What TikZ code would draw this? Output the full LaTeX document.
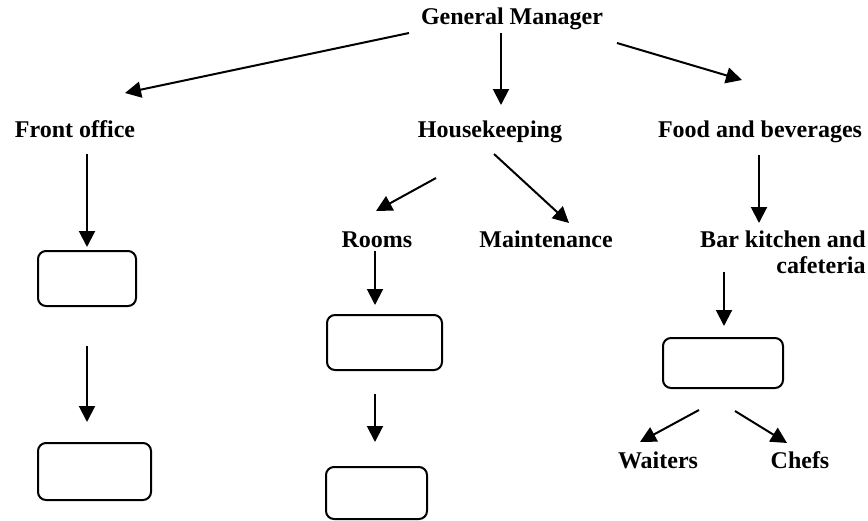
\documentclass[tikz,border=0pt]{standalone}
\usepackage{fontspec}
\setmainfont{Liberation Serif}
\usetikzlibrary{arrows.meta}
\tikzset{
  lbl/.style={inner sep=0pt,anchor=base,font=\fontsize{12}{13}\selectfont\bfseries},
  emptybox/.style={draw,line width=1pt,rounded corners=4pt,inner sep=0pt},
  arr/.style={line width=1pt,-{Triangle[length=8pt,width=8pt]}}
}
\begin{document}
\begin{tikzpicture}[x=0.5pt,y=-0.5pt]
        \useasboundingbox (0,0) rectangle (868,520);
        % labels
        \node[lbl] (gm) at (512,24) {General Manager};
        \node[lbl] (front) at (75,137) {Front office};
        \node[lbl] (house) at (490,137) {Housekeeping};
        \node[lbl] (food) at (760,137) {Food and beverages};
        \node[lbl] (rooms) at (377,247) {Rooms};
        \node[lbl] (maint) at (546,247) {Maintenance};
        \node[lbl,anchor=base east,align=right] (bar) at (866,273) {Bar kitchen and\\cafeteria};
        \node[lbl] (waiters) at (658,468) {Waiters};
        \node[lbl] (chefs) at (800,468) {Chefs};
        % empty boxes
        \node[emptybox,minimum width=49pt,minimum height=27.5pt] (fbox1) at (87,278.5) {};
        \node[emptybox,minimum width=56.5pt,minimum height=28.5pt] (fbox2) at (94.5,471.5) {};
        \node[emptybox,minimum width=57.5pt,minimum height=27.5pt] (rbox1) at (384.5,342.5) {};
        \node[emptybox,minimum width=50.5pt,minimum height=26pt] (rbox2) at (376.5,493) {};
        \node[emptybox,minimum width=60pt,minimum height=25pt] (bbox) at (723,363) {};
        % arrow ends
        \coordinate (gm-l) at (409,33);   \coordinate (front-in) at (125,93);
        \coordinate (gm-c) at (501,33);   \coordinate (house-in) at (501,105);
        \coordinate (gm-r) at (617,43);   \coordinate (food-in) at (742,80);
        \coordinate (front-out) at (87,154);
        \coordinate (fbox1-out) at (87,346); \coordinate (fbox2-in) at (87,422);
        \coordinate (house-l) at (436,178); \coordinate (rooms-in) at (376,211);
        \coordinate (house-r) at (494,154); \coordinate (maint-in) at (569,223);
        \coordinate (rooms-out) at (375,251);
        \coordinate (rbox1-out) at (375,394); \coordinate (rbox2-in) at (375,442);
        \coordinate (food-out) at (759,155);
        \coordinate (bar-out) at (724,272);
        \coordinate (bbox-l) at (699,410); \coordinate (waiters-in) at (640,442);
        \coordinate (bbox-r) at (735,411); \coordinate (chefs-in) at (787,443);
        % arrows
        \draw[arr] (gm-l) -- (front-in);
        \draw[arr] (gm-c) -- (house-in);
        \draw[arr] (gm-r) -- (food-in);
        \draw[arr] (front-out) -- (fbox1.north |- 0,247);
        \draw[arr] (fbox1-out) -- (fbox2-in);
        \draw[arr] (house-l) -- (rooms-in);
        \draw[arr] (house-r) -- (maint-in);
        \draw[arr] (rooms-out) -- (rooms-out |- 0,305);
        \draw[arr] (rbox1-out) -- (rbox2-in);
        \draw[arr] (food-out) -- (food-out |- 0,223);
        \draw[arr] (bar-out) -- (bar-out |- 0,326);
        \draw[arr] (bbox-l) -- (waiters-in);
        \draw[arr] (bbox-r) -- (chefs-in);
      \end{tikzpicture}
\end{document}
